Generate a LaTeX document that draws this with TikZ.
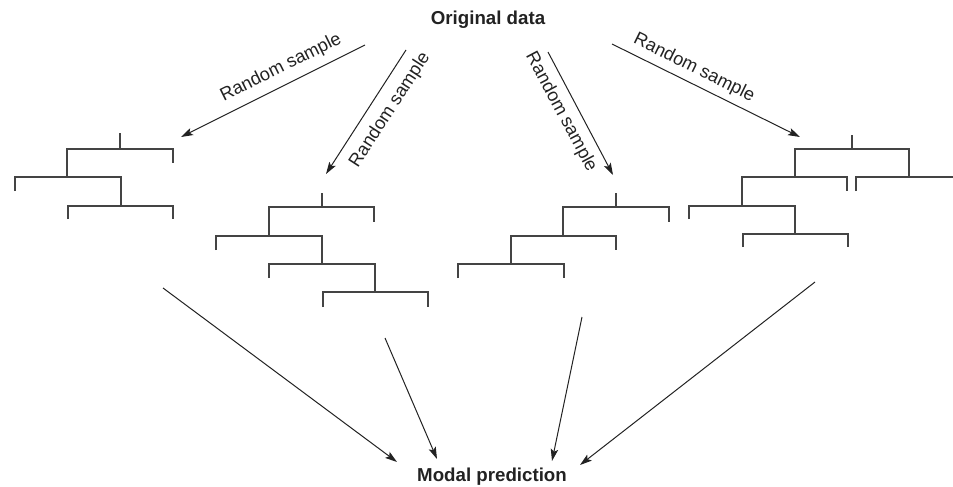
\documentclass[tikz,border=0pt]{standalone}
\usepackage{fontspec}
\setmainfont{Liberation Sans}
\usetikzlibrary{arrows.meta}
\definecolor{ink}{HTML}{222222}
\definecolor{treeline}{HTML}{444444}
\begin{document}
\begin{tikzpicture}[x=1pt,y=-1pt,
  branch/.style={draw=treeline, line width=1.3pt, line cap=butt},
  flow/.style={draw=ink, line width=1pt, -{Stealth[length=12pt,width=7.5pt,inset=2.5pt]}},
  heading/.style={font=\fontsize{18.7}{20}\selectfont\bfseries, text=ink, inner sep=0pt},
  tag/.style={font=\fontsize{18.2}{20}\selectfont, text=ink, inner sep=0pt}]
\useasboundingbox (0,0) rectangle (953,487);

% titles
\node[heading] (orig) at (488,20) {Original data};
\node[heading] (modal) at (492,477) {Modal prediction};

% tree 1
\draw[branch] (120,133) -- (120,149);
\draw[branch] (67,177) -- (67,149) -- (173,149) -- (173,163);
\draw[branch] (15,191) -- (15,177) -- (121,177) -- (121,206);
\draw[branch] (68,219) -- (68,206) -- (173,206) -- (173,219);

% tree 2
\draw[branch] (322,193) -- (322,207);
\draw[branch] (269,236) -- (269,207) -- (374,207) -- (374,222);
\draw[branch] (216,250) -- (216,236) -- (322,236) -- (322,264);
\draw[branch] (269,278) -- (269,264) -- (375,264) -- (375,292);
\draw[branch] (323,307) -- (323,292) -- (428,292) -- (428,307);

% tree 3
\draw[branch] (616,193) -- (616,207);
\draw[branch] (563,236) -- (563,207) -- (669,207) -- (669,222);
\draw[branch] (511,264) -- (511,236) -- (616,236) -- (616,250);
\draw[branch] (458,278) -- (458,264) -- (564,264) -- (564,278);

% tree 4
\draw[branch] (852,135) -- (852,149);
\draw[branch] (795,177) -- (795,149) -- (909,149) -- (909,177);
\draw[branch] (742,206) -- (742,177) -- (847,177) -- (847,191);
\draw[branch] (856,191) -- (856,177) -- (953,177);
\draw[branch] (689,219) -- (689,206) -- (795,206) -- (795,234);
\draw[branch] (743,247) -- (743,234) -- (848,234) -- (848,247);

% sampling arrows
\coordinate (s1a) at (365,45);  \coordinate (s1b) at (181,137);
\coordinate (s2a) at (406,50);  \coordinate (s2b) at (326,174);
\coordinate (s3a) at (548,52);  \coordinate (s3b) at (613,175);
\coordinate (s4a) at (612,44);  \coordinate (s4b) at (800,137);
\draw[flow] (s1a) -- (s1b);
\draw[flow] (s2a) -- (s2b);
\draw[flow] (s3a) -- (s3b);
\draw[flow] (s4a) -- (s4b);
\node[tag, rotate=26.5] (r1) at (281,68) {Random sample};
\node[tag, rotate=57] (r2) at (390,110) {Random sample};
\node[tag, rotate=-62] (r3) at (561,112) {Random sample};
\node[tag, rotate=-26.3] (r4) at (694,68) {Random sample};

% aggregation arrows
\coordinate (p1a) at (163,288); \coordinate (p1b) at (397,462);
\coordinate (p2a) at (385,338); \coordinate (p2b) at (437,459);
\coordinate (p3a) at (582,317); \coordinate (p3b) at (552,461);
\coordinate (p4a) at (815,282); \coordinate (p4b) at (580,465);
\draw[flow] (p1a) -- (p1b);
\draw[flow] (p2a) -- (p2b);
\draw[flow] (p3a) -- (p3b);
\draw[flow] (p4a) -- (p4b);
\end{tikzpicture}
\end{document}
